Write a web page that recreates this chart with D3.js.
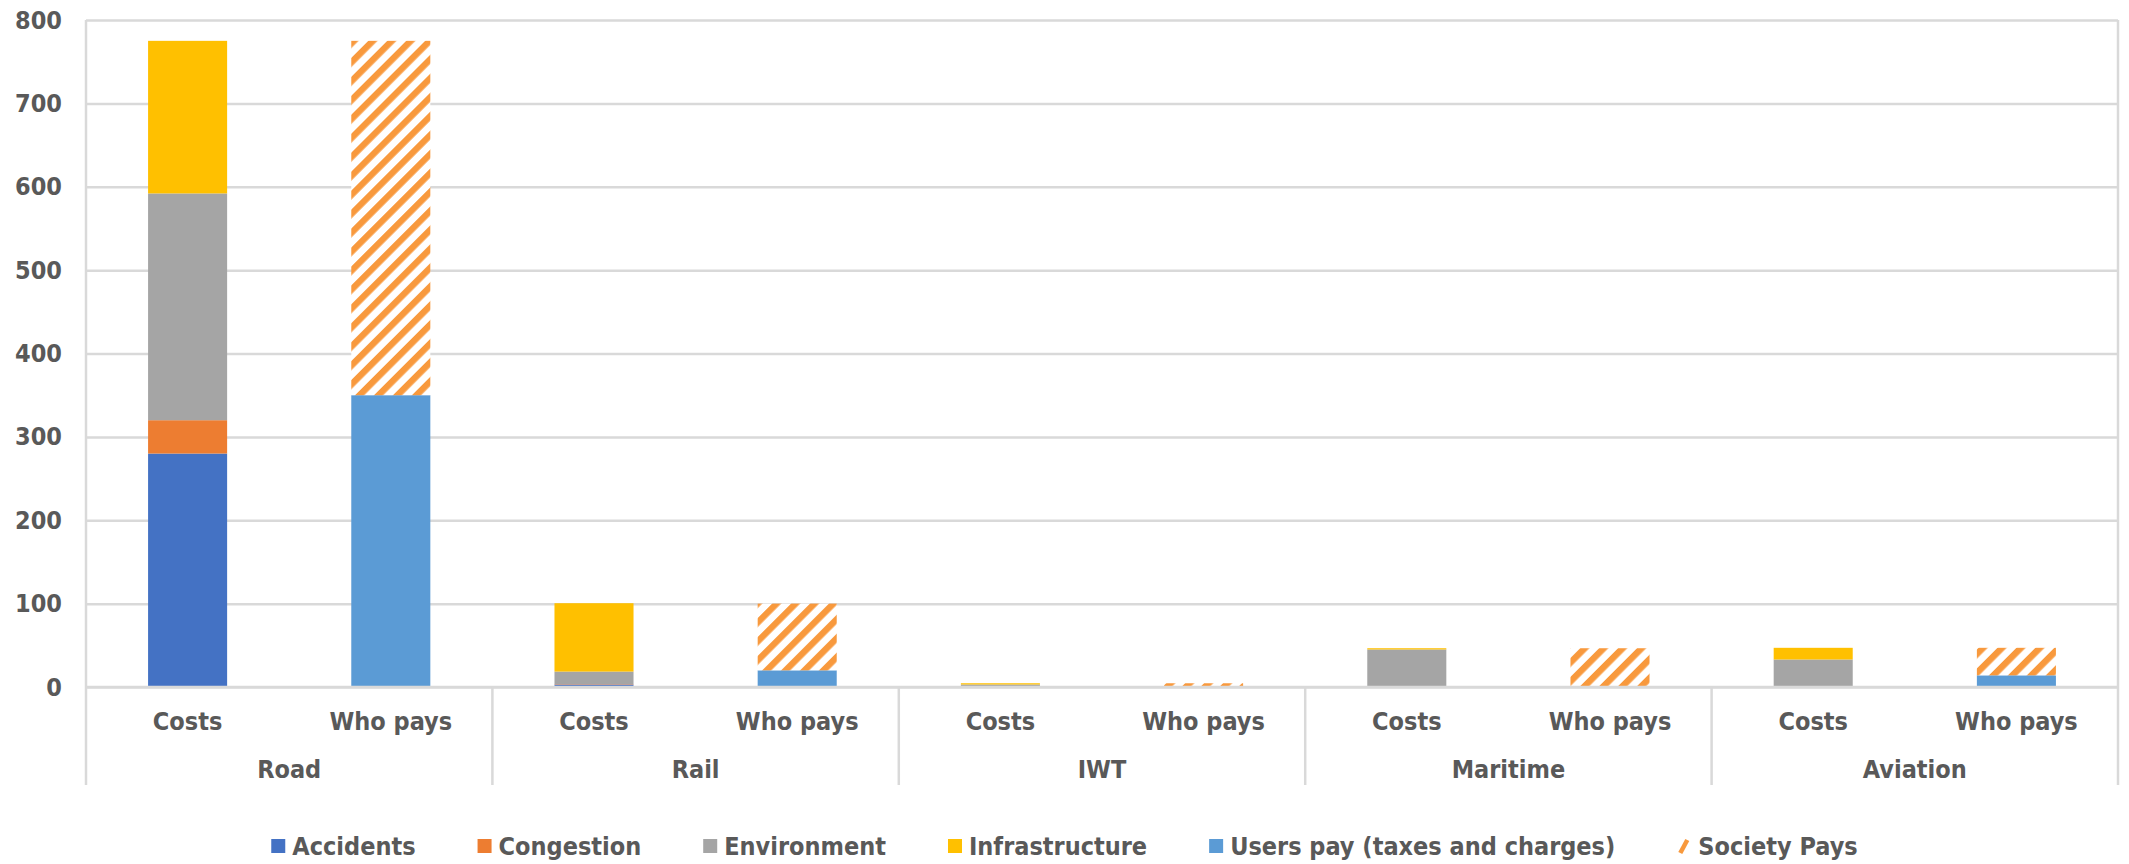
<!DOCTYPE html>
<html>
<head>
<meta charset="utf-8">
<script src="https://cdnjs.cloudflare.com/ajax/libs/d3/7.8.5/d3.min.js"></script>
<style>
body { margin: 0; background: #fff; }
text { font-family: "DejaVu Sans Condensed", "DejaVu Sans", sans-serif; font-stretch: condensed; font-weight: bold; fill: #595959; }
</style>
</head>
<body>
<svg class="chart"></svg>
<script>
// data (bn EUR)
var modes = ["Road", "Rail", "IWT", "Maritime", "Aviation"];
var subCats = ["Costs", "Who pays"];
var accidents      = [280, 3, 0, 0, 0];
var congestion     = [40, 0.5, 0, 0, 0];
var environment    = [272, 15, 3, 45, 33];
var infrastructure = [183, 82, 1.5, 1.5, 14];
var usersPay       = [350, 20, 0, 0, 14];
var societyPays    = [425, 80, 4.5, 46.5, 33];
var seriesNames = ["Accidents", "Congestion", "Environment", "Infrastructure", "Users pay (taxes and charges)", "Society Pays"];
var yTicks = [0, 100, 200, 300, 400, 500, 600, 700, 800];

var gwidth = 2129;
var gheight = 864;
var margin = {top: 20, right: 11, bottom: 177, left: 86},
    width = gwidth - margin.left - margin.right,
    height = gheight - margin.top - margin.bottom;

var svg = d3.select(".chart")
  .attr("width", gwidth)
  .attr("height", gheight);

// hatch for "Society Pays"
var pat = svg.append("defs").append("pattern")
  .attr("id", "hatch")
  .attr("patternUnits", "userSpaceOnUse")
  .attr("width", 13.4)
  .attr("height", 13.4)
  .attr("patternTransform", "rotate(45)");
pat.append("rect").attr("width", 13.4).attr("height", 13.4).attr("fill", "#fff");
pat.append("rect").attr("width", 6.4).attr("height", 13.4).attr("fill", "#F8993D");

var colors = d3.scaleOrdinal()
  .domain(seriesNames)
  .range(["#4472C4", "#ED7D31", "#A5A5A5", "#FFC000", "#5B9BD5", "url(#hatch)"]);

var chart = svg.append("g")
  .attr("transform", "translate(" + margin.left + "," + margin.top + ")");

// rows: one per bar
var rows = [];
modes.forEach(function(m, i) {
  rows.push({mode: m, sub: "Costs", key: m + "|Costs",
    "Accidents": accidents[i], "Congestion": congestion[i],
    "Environment": environment[i], "Infrastructure": infrastructure[i],
    "Users pay (taxes and charges)": 0, "Society Pays": 0});
  rows.push({mode: m, sub: "Who pays", key: m + "|Who pays",
    "Accidents": 0, "Congestion": 0, "Environment": 0, "Infrastructure": 0,
    "Users pay (taxes and charges)": usersPay[i], "Society Pays": societyPays[i]});
});

var x0 = d3.scaleBand().domain(modes).range([0, width]);
var x1 = d3.scaleBand().domain(subCats).range([0, x0.bandwidth()])
  .paddingInner(0.611).paddingOuter(0.3055);
var y = d3.scaleLinear().domain([0, 800]).range([height, 0]);

// gridlines + y labels
var yAxis = d3.axisLeft(y)
  .tickValues(yTicks)
  .tickSize(-width)
  .tickPadding(24);
var yaxis = chart.append("g").attr("class", "y axis").call(yAxis);
yaxis.select(".domain").remove();
yaxis.selectAll("line").attr("stroke", "#D9D9D9").attr("stroke-width", 2.5);
yaxis.selectAll("text").style("font-size", "25px").attr("fill", "#595959");

// bars
var stacked = d3.stack().keys(seriesNames)(rows);
chart.append("g").selectAll("g")
  .data(stacked)
  .enter().append("g")
    .attr("fill", function(s) { return colors(s.key); })
  .selectAll("rect")
  .data(function(s) { return s.filter(function(d) { return d[1] - d[0] > 0; }); })
  .enter().append("rect")
    .attr("x", function(d) { return x0(d.data.mode) + x1(d.data.sub); })
    .attr("y", function(d) { return y(d[1]); })
    .attr("width", x1.bandwidth())
    .attr("height", function(d) { return y(d[0]) - y(d[1]); });

// category axis, two levels
var catAxis = chart.append("g").attr("class", "x axis");
var axisBottom = 98;
catAxis.append("line")
  .attr("x1", 0).attr("x2", width)
  .attr("y1", height).attr("y2", height)
  .attr("stroke", "#D9D9D9").attr("stroke-width", 2.5);
catAxis.selectAll(".sep")
  .data(modes.concat(["end"]))
  .enter().append("line")
    .attr("class", "sep")
    .attr("x1", function(d, i) { return i * x0.step(); })
    .attr("x2", function(d, i) { return i * x0.step(); })
    .attr("y1", function(d, i) { return (i == 0 || i == modes.length) ? 0 : height; })
    .attr("y2", height + axisBottom)
    .attr("stroke", "#D9D9D9").attr("stroke-width", 2.5);

catAxis.selectAll(".sublabel")
  .data(rows)
  .enter().append("text")
    .attr("class", "sublabel")
    .attr("x", function(d) { return x0(d.mode) + x1(d.sub) + x1.bandwidth() / 2; })
    .attr("y", height + 43)
    .attr("text-anchor", "middle")
    .style("font-size", "25px")
    .text(function(d) { return d.sub; });

catAxis.selectAll(".grouplabel")
  .data(modes)
  .enter().append("text")
    .attr("class", "grouplabel")
    .attr("x", function(d) { return x0(d) + x0.bandwidth() / 2; })
    .attr("y", height + 91)
    .attr("text-anchor", "middle")
    .style("font-size", "25px")
    .text(function(d) { return d; });

// legend
var legend = svg.append("g").attr("class", "legend");
var ly = 846;
var items = legend.selectAll("g")
  .data(seriesNames)
  .enter().append("g");
items.append("text")
  .attr("x", 21)
  .attr("y", ly + 9)
  .style("font-size", "25px")
  .text(function(d) { return d; });
items.each(function(d) {
  var g = d3.select(this);
  if (d == "Society Pays") {
    g.append("path")
      .attr("d", "M3," + (ly + 7) + "L10," + (ly - 6))
      .attr("stroke", "#F8993D")
      .attr("stroke-width", 4.5);
  } else {
    g.append("rect")
      .attr("x", 0).attr("y", ly - 7)
      .attr("width", 14).attr("height", 14)
      .attr("fill", colors(d));
  }
});
var lx = 0;
var offsets = [];
items.each(function() {
  var w = d3.select(this).select("text").node().getComputedTextLength();
  offsets.push(lx);
  lx += 21 + w + 62;
});
var total = lx - 62;
var start = gwidth / 2 - total / 2;
items.attr("transform", function(d, i) { return "translate(" + (start + offsets[i]) + ",0)"; });
</script>
</body>
</html>
